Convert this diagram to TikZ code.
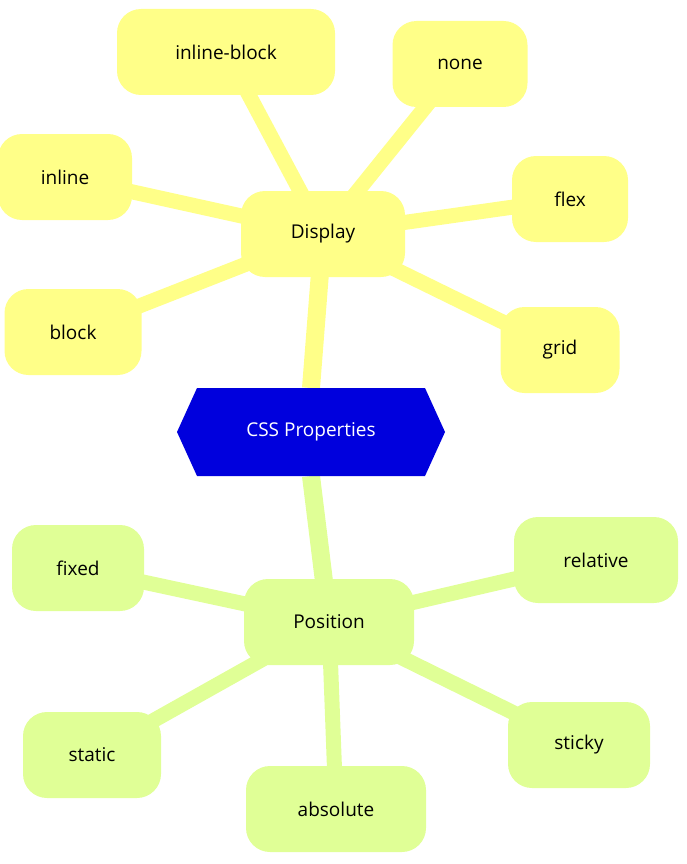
\documentclass[tikz,border=0pt]{standalone}
\usepackage{fontspec}
\setmainfont{Open Sans}
\begin{document}
\definecolor{yel}{RGB}{255,255,136}
\definecolor{grn}{RGB}{224,255,150}
\definecolor{blu}{RGB}{0,0,221}
\begin{tikzpicture}[x=1pt,y=-1pt,
  box/.style={rounded corners=24pt,minimum height=86pt,font=\fontsize{19}{22}\selectfont,text=black,inner sep=0pt},
  yb/.style={box,fill=yel},
  gb/.style={box,fill=grn},
  ye/.style={draw=yel,line width=15pt},
  ge/.style={draw=grn,line width=15pt}]
\useasboundingbox (0,0) rectangle (686,864);
% hexagon
\fill[blu] (177,432) -- (197,388) -- (425,388) -- (445,432) -- (425,476) -- (197,476) -- cycle;
\node[font=\fontsize{19}{22}\selectfont,text=white] (css) at (311,432) {CSS Properties};
\node[yb,minimum width=164pt] (display) at (323,234) {Display};
\node[yb,minimum width=218pt] (ib) at (226,52) {inline-block};
\node[yb,minimum width=135pt] (none) at (460,64) {none};
\node[yb,minimum width=134pt] (inline) at (65,177) {inline};
\node[yb,minimum width=116pt] (flex) at (570,199) {flex};
\node[yb,minimum width=137pt] (block) at (73,332) {block};
\node[yb,minimum width=119pt] (grid) at (560,350) {grid};
\node[gb,minimum width=170pt] (position) at (329,622) {Position};
\node[gb,minimum width=132pt] (fixed) at (78,568) {fixed};
\node[gb,minimum width=164pt] (relative) at (596,560) {relative};
\node[gb,minimum width=138pt] (static) at (92,755) {static};
\node[gb,minimum width=142pt] (sticky) at (579,745) {sticky};
\node[gb,minimum width=180pt] (absolute) at (336,809) {absolute};
\begin{scope}[on background layer/.style={}]
\end{scope}
\pgfdeclarelayer{bg}\pgfsetlayers{bg,main}
\begin{pgfonlayer}{bg}
\draw[ye,line width=18pt] (css.center) ++(0,-44) -- (display.center);
\foreach \n in {ib,none,inline,flex,block,grid} \draw[ye] (display.center) -- (\n.center);
\draw[ge,line width=18pt] (css.center) ++(0,44) -- (position.center);
\foreach \n in {fixed,relative,static,sticky,absolute} \draw[ge] (position.center) -- (\n.center);
\end{pgfonlayer}
\end{tikzpicture}
\end{document}
